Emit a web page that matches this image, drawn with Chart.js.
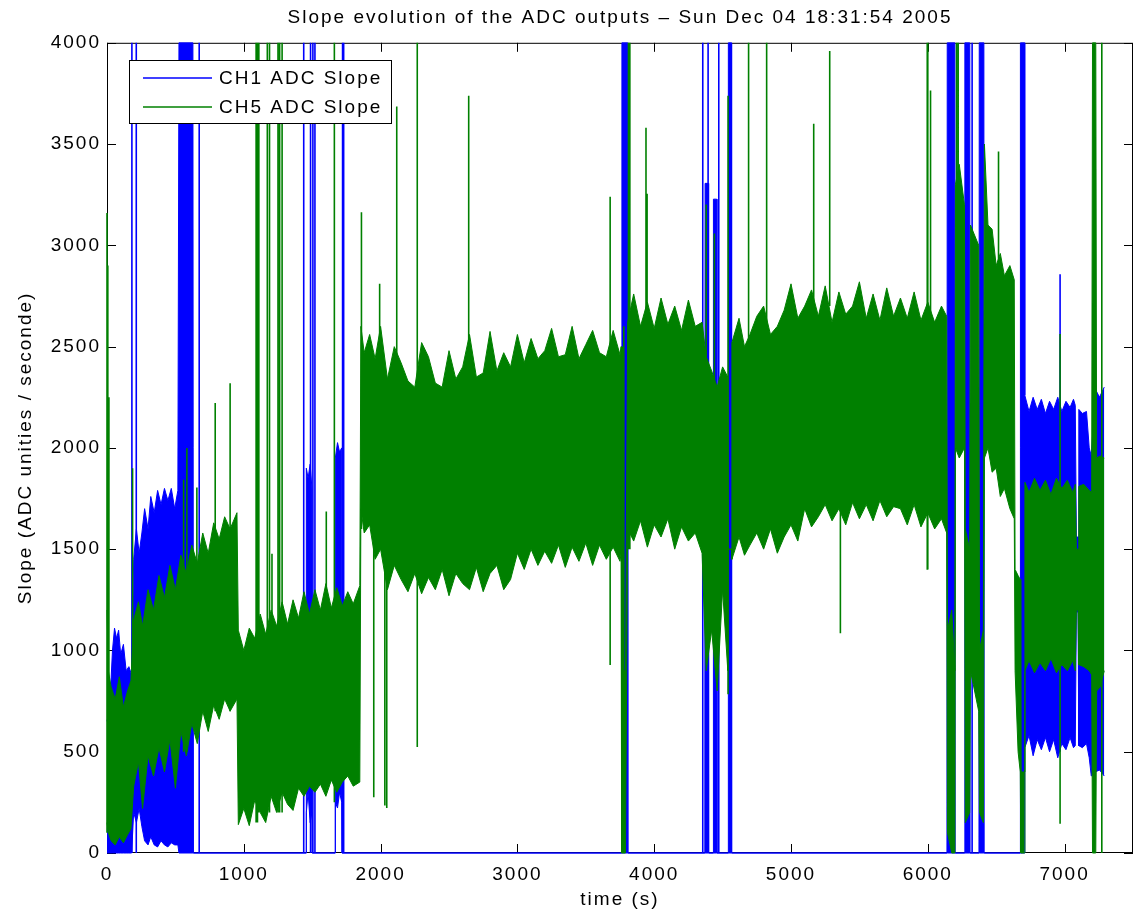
<!DOCTYPE html>
<html>
<head>
<meta charset="utf-8">
<script src="https://cdn.jsdelivr.net/npm/chart.js@4.4.0/dist/chart.umd.min.js"></script>
<style>
  html, body { margin: 0; padding: 0; background: #fff; }
  #wrap { width: 1135px; height: 911px; }
</style>
</head>
<body>
<div id="wrap"><canvas id="slopeChart" width="1135" height="911"></canvas></div>
<script>
// axis ticks
const xTicks = [0, 1000, 2000, 3000, 4000, 5000, 6000, 7000];
const yTicks = [0, 500, 1000, 1500, 2000, 2500, 3000, 3500, 4000];

// CH1 : envelope (low / high) of the noisy signal
const ch1Time = [0, 20, 40, 55, 70, 85, 100, 120, 140, 160, 180,
  195, 215, 235, 255, 275, 300, 320, 345, 370, 395, 420, 445, 470, 495, 518, 526, 628, 632,
  1455, 1457, 1470, 1485, 1498, 1500, 1667, 1669, 1685, 1700, 1716, 1718,
  3762, 3764, 3805, 3807, 4370, 4372, 4396, 4398, 4431, 4433, 4457, 4459, 4540, 4542, 4564, 4566,
  6140, 6142, 6198, 6200, 6269, 6271, 6307, 6309, 6374, 6376, 6410, 6412, 6675, 6677, 6707,
  6709, 6740, 6770, 6800, 6830, 6860, 6890, 6920, 6950, 6980, 7010, 7040, 7065, 7078,
  7086, 7098, 7104, 7130, 7160, 7180, 7195, 7225, 7255, 7290];
const ch1Low = [0, 0, 0, 0, 0, 0, 0, 0, 0, 0, 0,
  200, 150, 220, 130, 60, 40, 80, 40, 30, 60, 40, 30, 50, 40, 40, 0, 0, 0,
  0, 200, 300, 150, 200, 0, 0, 250, 222, 300, 250, 0,
  0, 0, 0, 0, 0, 0, 0, 0, 0, 0, 0, 0, 0, 0, 0, 0,
  0, 0, 0, 0, 0, 0, 0, 0, 0, 0, 0, 0, 0, 0, 0,
  520, 580, 480, 560, 510, 570, 500, 560, 470, 540, 510, 570, 520, 530,
  1190, 1190, 530, 520, 540, 470, 380, 400, 410, 380];
const ch1High = [650, 720, 1000, 1110, 1060, 1100, 980, 1030, 900, 920, 880,
  1450, 1600, 1480, 1580, 1700, 1600, 1760, 1680, 1790, 1720, 1800, 1740, 1800, 1700, 1790, 4000, 4000, 0,
  0, 1900, 1850, 1920, 1800, 0, 0, 1950, 2026, 1980, 2000, 0,
  0, 4000, 4000, 0, 0, 3306, 3306, 0, 0, 3228, 3228, 0, 0, 4000, 4000, 0,
  0, 4000, 4000, 0, 0, 4000, 4000, 0, 0, 4000, 4000, 0, 0, 4000, 4000,
  2260, 2180, 2250, 2190, 2240, 2170, 2230, 2190, 2250, 2180, 2230, 2200, 2240, 2210,
  1560, 1560, 2190, 2170, 2180, 2000, 1960, 2290, 2250, 2300];

// CH1 : isolated vertical spikes
const ch1SpikeTime = [182, 214, 674, 1438, 1488, 1505, 1520, 1722, 1730, 4355, 4394, 4472, 6324, 6967];
const ch1SpikeLow = [0, 0, 0, 0, 0, 0, 0, 0, 0, 0, 0, 0, 0, 500];
const ch1SpikeHigh = [4000, 4000, 4000, 4000, 4000, 4000, 4000, 4000, 4000, 4000, 4000, 4000, 4000, 2857];

// CH5 : envelope (low / high)
const ch5Time = [0, 10, 30, 60, 90, 120, 150, 175,
  195, 230, 260, 300, 340, 380, 420, 460, 500, 540, 580, 620, 660, 700, 740, 780, 820, 860, 900, 950,
  960, 1000, 1040, 1080, 1120, 1160, 1200, 1240, 1280, 1320, 1360, 1400, 1440, 1480, 1520, 1560, 1600, 1640, 1680, 1720, 1760, 1800, 1848,
  1856, 1880, 1920, 1960, 2000, 2050, 2100, 2150, 2200, 2250, 2300, 2350, 2400, 2450, 2500, 2550, 2600, 2650, 2700, 2750, 2800, 2850, 2900, 2950,
  3000, 3050, 3100, 3150, 3200, 3250, 3300, 3350, 3400, 3450, 3500, 3550, 3600, 3650, 3700, 3750, 3758, 3762, 3790,
  3806, 3850, 3900, 3950, 4000, 4050, 4100, 4150, 4200, 4250, 4300, 4350, 4380, 4420, 4460, 4500, 4538, 4542, 4564,
  4568, 4620, 4660, 4700, 4750, 4800, 4850, 4900, 4950, 5000, 5050, 5100, 5150, 5200, 5250, 5300, 5350, 5400, 5450, 5500, 5550, 5600, 5650, 5700, 5750,
  5800, 5850, 5900, 5950, 6000, 6050, 6100, 6138, 6144, 6175, 6198, 6202, 6230, 6268, 6274, 6306, 6312, 6372, 6378, 6406,
  6414, 6440, 6470, 6500, 6530, 6560, 6600, 6632, 6638, 6660, 6676, 6680, 6704,
  6710, 6740, 6780, 6820, 6860, 6900, 6940, 6980, 7020, 7060, 7078, 7086, 7098, 7104, 7140, 7180, 7198, 7204, 7228, 7234, 7260, 7290];
const ch5Low = [150, 100, 60, 40, 80, 50, 90, 120,
  330, 450, 220, 480, 380, 520, 400, 560, 320, 600, 480, 640, 540, 700, 600, 730, 660, 760, 700, 760,
  140, 220, 135, 260, 200, 150, 280, 200, 300, 240, 210, 320, 280, 330, 300, 340, 280, 360, 300, 350, 380, 330, 350,
  1700, 1580, 1620, 1450, 1500, 1300, 1420, 1350, 1290, 1380, 1280, 1360, 1300, 1400, 1270, 1380, 1330, 1300, 1410, 1290, 1380, 1420, 1300, 1350,
  1480, 1400, 1500, 1420, 1490, 1430, 1520, 1410, 1510, 1440, 1530, 1420, 1520, 1450, 1510, 1440, 1480, 0, 0,
  1600, 1540, 1640, 1510, 1620, 1560, 1650, 1500, 1610, 1540, 1580, 1480, 900, 1100, 800, 1300, 900, 1500, 1500,
  1450, 1560, 1470, 1520, 1580, 1500, 1600, 1480, 1560, 1620, 1540, 1700, 1610, 1660, 1720, 1640, 1700, 1620, 1730, 1650, 1720, 1640, 1740, 1660, 1710,
  1700, 1620, 1720, 1610, 1680, 1600, 1650, 1580, 100, 0, 0, 2000, 1950, 2000, 150, 200, 900, 700, 200, 150,
  1950, 2000, 1880, 1900, 1760, 1800, 1700, 1650, 900, 500, 400, 0, 0,
  900, 950, 890, 940, 900, 960, 890, 930, 900, 950, 900, 1200, 1200, 930, 920, 900, 880, 0, 0, 800, 820, 900];
const ch5High = [1200, 900, 820, 760, 870, 720, 800, 850,
  1150, 1240, 1120, 1300, 1200, 1370, 1260, 1420, 1300, 1470, 1380, 1520, 1430, 1580, 1480, 1630, 1550, 1660, 1600, 1680,
  1100, 1000, 1110, 1060, 1180, 1080, 1200, 1120, 1240, 1130, 1250, 1160, 1290, 1180, 1300, 1200, 1330, 1210, 1310, 1220, 1290, 1230, 1320,
  2600, 2470, 2560, 2440, 2600, 2340, 2500, 2420, 2330, 2300, 2520, 2450, 2320, 2300, 2480, 2340, 2400, 2560, 2350, 2370, 2575, 2380, 2470, 2400,
  2560, 2420, 2540, 2440, 2480, 2590, 2450, 2460, 2600, 2440, 2510, 2580, 2470, 2450, 2580, 2460, 2500, 900, 900,
  2620, 2760, 2600, 2720, 2590, 2740, 2610, 2700, 2580, 2730, 2600, 2620, 2450, 2380, 2300, 2400, 2350, 1500, 1500,
  2520, 2640, 2500, 2560, 2650, 2700, 2560, 2600, 2680, 2810, 2640, 2700, 2780, 2650, 2800, 2620, 2770, 2660, 2700, 2820, 2640, 2760, 2630, 2790, 2650,
  2740, 2640, 2770, 2630, 2720, 2620, 2700, 2650, 1100, 1200, 900, 3300, 3400, 3200, 1600, 1500, 3100, 3000, 1000, 1100,
  3500, 3100, 3080, 2900, 2960, 2850, 2900, 2830, 1400, 1370, 1350, 400, 400,
  1830, 1780, 1850, 1790, 1840, 1770, 1850, 1800, 1840, 1780, 1820, 1500, 1500, 1810, 1820, 1790, 1780, 4000, 4000, 1950, 1960, 1950];

// CH5 : isolated vertical spikes
const ch5SpikeTime = [0, 6, 14, 187, 560, 584, 657, 791, 900, 1090, 1100, 1110, 1172, 1188, 1206, 1250, 1262, 1280, 1603, 1662,
  1860, 1950, 1993, 2031, 2045, 2118, 2268, 2644, 3678, 3768, 3778, 3812, 3822, 3940, 3948,
  4380, 4440, 4540, 4690, 4822, 5166, 5283, 5361, 5996, 6000, 6020, 6210, 6222, 6517, 6967, 7272];
const ch5SpikeLow = [100, 200, 150, 300, 500, 500, 600, 700, 700, 150, 150, 200, 200, 200, 300, 200, 200, 200, 300, 250,
  1600, 275, 1500, 235, 222, 2400, 523, 2400, 928, 0, 0, 1500, 1500, 2600, 2600,
  2400, 1000, 784, 2500, 2600, 2700, 2700, 1085, 1398, 1400, 2600, 2000, 2000, 2900, 144, 0];
const ch5SpikeHigh = [3160, 2900, 2250, 1900, 1843, 2000, 1804, 2222, 2319, 4000, 4000, 4000, 4000, 4000, 1477, 4000, 4000, 4000, 1686, 4000,
  3163, 1600, 2810, 1500, 1400, 3686, 4000, 3738, 3240, 2500, 2600, 4000, 4000, 3580, 3255,
  3202, 3058, 3738, 4000, 4000, 3600, 3960, 1700, 4000, 4000, 3765, 4000, 4000, 3463, 2562, 4000];

const blue = '#0000ff';
const green = '#008000';

const toPoints = (t, v) => t.map((x, i) => ({ x: x, y: v[i] }));
const toSpikes = (t, lo, hi) => {
  const pts = [];
  t.forEach((x, i) => { pts.push({ x: x, y: lo[i] }, { x: x, y: hi[i] }, { x: x, y: null }); });
  return pts;
};

const line = (label, data, color, fill, width) => ({
  label: label, data: data, borderColor: color, backgroundColor: color,
  borderWidth: width || 1, pointRadius: 0, tension: 0, fill: fill, spanGaps: false, clip: 2
});

// axes box, inward ticks (under the data) and MATLAB-like legend (on top)
const matlabAxes = {
  id: 'matlabAxes',
  beforeDraw(chart) {
    chart.ctx.letterSpacing = '2px';
  },
  beforeDatasetsDraw(chart) {
    const { ctx, chartArea: a, scales: { x, y } } = chart;
    ctx.save();
    ctx.strokeStyle = '#000';
    ctx.lineWidth = 1;
    ctx.strokeRect(a.left + 0.5, a.top + 0.5, a.right - a.left - 1, a.bottom - a.top - 1);
    ctx.beginPath();
    x.ticks.forEach(t => {
      const px = Math.round(x.getPixelForValue(t.value)) + 0.5;
      ctx.moveTo(px, a.bottom); ctx.lineTo(px, a.bottom - 9);
      ctx.moveTo(px, a.top); ctx.lineTo(px, a.top + 9);
    });
    y.ticks.forEach(t => {
      const py = Math.round(y.getPixelForValue(t.value)) + 0.5;
      ctx.moveTo(a.left, py); ctx.lineTo(a.left + 9, py);
      ctx.moveTo(a.right, py); ctx.lineTo(a.right - 9, py);
    });
    ctx.stroke();
    ctx.restore();
  },
  afterDraw(chart) {
    const { ctx } = chart;
    const items = chart.data.datasets
      .filter(d => d.legendRank !== undefined)
      .sort((a, b) => a.legendRank - b.legendRank);
    ctx.save();
    ctx.fillStyle = '#fff';
    ctx.fillRect(129, 60, 262, 63);
    ctx.strokeStyle = '#000';
    ctx.lineWidth = 1;
    ctx.strokeRect(129.5, 60.5, 262, 63);
    ctx.font = '19px "Liberation Sans", Arial, sans-serif';
    ctx.textBaseline = 'middle';
    ctx.letterSpacing = '2px';
    items.forEach((d, i) => {
      const yy = 78 + i * 29;
      ctx.strokeStyle = d.borderColor;
      ctx.lineWidth = 1.6;
      ctx.beginPath(); ctx.moveTo(143, yy); ctx.lineTo(212, yy); ctx.stroke();
      ctx.fillStyle = '#000';
      ctx.fillText(d.label, 219, yy + 0.5);
    });
    ctx.restore();
  }
};

Chart.defaults.font.family = '"Liberation Sans", Arial, sans-serif';
Chart.defaults.font.size = 19;
Chart.defaults.color = '#000';

// datasets listed top-most first (Chart.js paints the first dataset last)
const ch5HighSet = line('CH5 ADC Slope', toPoints(ch5Time, ch5High), green, '+1');
ch5HighSet.legendRank = 1;
const ch1HighSet = line('CH1 ADC Slope', toPoints(ch1Time, ch1High), blue, '+1');
ch1HighSet.legendRank = 0;

const datasets = [
  line('CH5 spikes', toSpikes(ch5SpikeTime, ch5SpikeLow, ch5SpikeHigh), green, false, 1.6),
  ch5HighSet,
  line('CH5 low', toPoints(ch5Time, ch5Low), green, false),
  line('CH1 spikes', toSpikes(ch1SpikeTime, ch1SpikeLow, ch1SpikeHigh), blue, false, 1.6),
  ch1HighSet,
  line('CH1 low', toPoints(ch1Time, ch1Low), blue, false)
];

new Chart(document.getElementById('slopeChart'), {
  type: 'line',
  data: { datasets: datasets },
  options: {
    responsive: false,
    animation: false,
    events: [],
    layout: { padding: { left: 0, right: 2, top: 0, bottom: 0 } },
    scales: {
      x: {
        type: 'linear', min: 0, max: 7500,
        afterBuildTicks: s => { s.ticks = xTicks.map(v => ({ value: v })); },
        afterFit: s => { s.height = 58; },
        grid: { display: false, drawTicks: false },
        border: { display: false },
        ticks: { padding: 10, maxRotation: 0, autoSkip: false, color: '#000', callback: v => String(v) },
        title: { display: true, text: 'time (s)', color: '#000', padding: { top: 0, bottom: 0 } }
      },
      y: {
        type: 'linear', min: 0, max: 4000,
        afterBuildTicks: s => { s.ticks = yTicks.map(v => ({ value: v })); },
        afterFit: s => { s.width = 107; },
        grid: { display: false, drawTicks: false },
        border: { display: false },
        ticks: { padding: 6, color: '#000', callback: v => String(v) },
        title: { display: true, text: 'Slope (ADC unities / seconde)', color: '#000', padding: { top: 14, bottom: 0 } }
      }
    },
    plugins: {
      legend: { display: false },
      tooltip: { enabled: false },
      title: {
        display: true,
        fullSize: false,
        text: 'Slope evolution of the ADC outputs – Sun Dec 04 18:31:54 2005',
        color: '#000',
        font: { size: 19, weight: 'normal' },
        padding: { top: 6, bottom: 14 }
      }
    }
  },
  plugins: [matlabAxes]
});
</script>
</body>
</html>
